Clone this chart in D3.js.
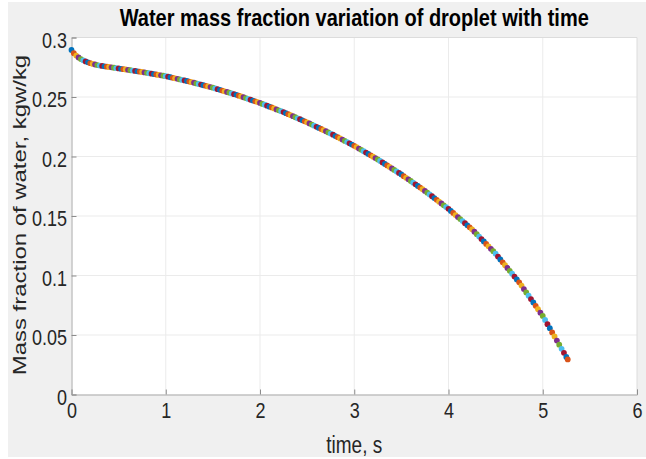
<!DOCTYPE html>
<html>
<head>
<meta charset="utf-8">
<script src="https://cdn.jsdelivr.net/npm/d3@7"></script>
<style>
  html, body { margin: 0; padding: 0; background: #fff; }
  svg { display: block; font-family: "Liberation Sans", Arial, sans-serif; }
</style>
</head>
<body>
<div id="viz"></div>
<script>
// time (s) and water mass fraction (kgw/kg)
const time = [
  0, 0.025, 0.05, 0.075, 0.1, 0.125, 0.15, 0.175, 0.2, 0.225, 0.25, 0.275, 0.3, 0.325, 0.35, 0.375, 0.4, 0.425, 0.45, 0.475,
  0.5, 0.525, 0.55, 0.575, 0.6, 0.625, 0.65, 0.675, 0.7, 0.725, 0.75, 0.775, 0.8, 0.825, 0.85, 0.875, 0.9, 0.925, 0.95, 0.975,
  1, 1.025, 1.05, 1.075, 1.1, 1.125, 1.15, 1.175, 1.2, 1.225, 1.25, 1.275, 1.3, 1.325, 1.35, 1.375, 1.4, 1.425, 1.45, 1.475,
  1.5, 1.525, 1.55, 1.575, 1.6, 1.625, 1.65, 1.675, 1.7, 1.725, 1.75, 1.775, 1.8, 1.825, 1.85, 1.875, 1.9, 1.925, 1.95, 1.975,
  2, 2.025, 2.05, 2.075, 2.1, 2.125, 2.15, 2.175, 2.2, 2.225, 2.25, 2.275, 2.3, 2.325, 2.35, 2.375, 2.4, 2.425, 2.45, 2.475,
  2.5, 2.525, 2.55, 2.575, 2.6, 2.625, 2.65, 2.675, 2.7, 2.725, 2.75, 2.775, 2.8, 2.825, 2.85, 2.875, 2.9, 2.925, 2.95, 2.975,
  3, 3.025, 3.05, 3.075, 3.1, 3.125, 3.15, 3.175, 3.2, 3.225, 3.25, 3.275, 3.3, 3.325, 3.35, 3.375, 3.4, 3.425, 3.45, 3.475,
  3.5, 3.525, 3.55, 3.575, 3.6, 3.625, 3.65, 3.675, 3.7, 3.725, 3.75, 3.775, 3.8, 3.825, 3.85, 3.875, 3.9, 3.925, 3.95, 3.975,
  4, 4.025, 4.05, 4.075, 4.1, 4.125, 4.15, 4.175, 4.2, 4.225, 4.25, 4.275, 4.3, 4.325, 4.35, 4.375, 4.4, 4.425, 4.45, 4.475,
  4.5, 4.525, 4.55, 4.575, 4.6, 4.625, 4.65, 4.675, 4.7, 4.725, 4.75, 4.775, 4.8, 4.825, 4.85, 4.875, 4.9, 4.925, 4.95, 4.975,
  5, 5.025, 5.05, 5.075, 5.1, 5.125, 5.15, 5.175, 5.2, 5.225, 5.25, 5.265
];
const waterFraction = [
  0.2895, 0.2868, 0.2848, 0.2832, 0.2819, 0.2808, 0.2799, 0.2791, 0.2784, 0.2778, 0.2773, 0.2768, 0.2764, 0.2761, 0.2758, 0.2755, 0.2752, 0.2749, 0.2746, 0.2743,
  0.2740, 0.2737, 0.2734, 0.2731, 0.2728, 0.2725, 0.2722, 0.2719, 0.2716, 0.2713, 0.2710, 0.27065, 0.2703, 0.26995, 0.2696, 0.26925, 0.2689, 0.26855, 0.2682, 0.26785,
  0.2675, 0.26705, 0.2666, 0.26615, 0.2657, 0.26525, 0.2648, 0.26435, 0.2639, 0.26345, 0.2630, 0.26248, 0.26196, 0.26144, 0.26092, 0.2604, 0.25988, 0.25936, 0.25884, 0.25832,
  0.2578, 0.2572, 0.2566, 0.2560, 0.2554, 0.2548, 0.2542, 0.2536, 0.2530, 0.2524, 0.2518, 0.2511, 0.2504, 0.2498, 0.2491, 0.2484, 0.2477, 0.2470, 0.2464, 0.2457,
  0.2450, 0.2442, 0.2435, 0.2427, 0.2419, 0.2412, 0.2404, 0.2396, 0.2388, 0.2381, 0.2373, 0.2364, 0.2356, 0.2347, 0.2339, 0.2330, 0.2321, 0.2313, 0.2304, 0.2296,
  0.2287, 0.2278, 0.2268, 0.2259, 0.2249, 0.2240, 0.2231, 0.2221, 0.2212, 0.2202, 0.2193, 0.2183, 0.2172, 0.2162, 0.2152, 0.2142, 0.2131, 0.2121, 0.2111, 0.2100,
  0.2090, 0.2079, 0.2067, 0.2056, 0.2044, 0.2033, 0.2021, 0.2010, 0.1998, 0.1987, 0.1975, 0.1962, 0.1950, 0.1937, 0.1925, 0.1912, 0.1899, 0.1887, 0.1874, 0.1862,
  0.1849, 0.1835, 0.1821, 0.1808, 0.1794, 0.1780, 0.1766, 0.1752, 0.1739, 0.1725, 0.1711, 0.1696, 0.1681, 0.1666, 0.1651, 0.1636, 0.1620, 0.1605, 0.1590, 0.1575,
  0.1560, 0.1543, 0.1526, 0.1508, 0.1491, 0.1474, 0.1457, 0.1440, 0.1422, 0.1405, 0.1388, 0.1368, 0.1347, 0.1327, 0.1306, 0.1286, 0.1265, 0.1245, 0.1224, 0.1204,
  0.1183, 0.1159, 0.1135, 0.1111, 0.1087, 0.1063, 0.1039, 0.1015, 0.0991, 0.0967, 0.0943, 0.0915, 0.0886, 0.0858, 0.0830, 0.0802, 0.0773, 0.0745, 0.0717, 0.0688,
  0.0660, 0.0626, 0.0591, 0.0557, 0.0522, 0.0488, 0.0453, 0.0419, 0.0384, 0.0350, 0.0315, 0.0295
];
const xTicks = [0, 1, 2, 3, 4, 5, 6];
const yTicks = [0, 0.05, 0.1, 0.15, 0.2, 0.25, 0.3];
const markerColors = ['#0072BD', '#D95319', '#EDB120', '#7E2F8E', '#77AC30', '#4DBEEE', '#A2142F'];

const width = 646;
const height = 459;
const plotLeft = 71.5, plotRight = 637, plotTop = 37.5, plotBottom = 394.5;

const svg = d3.select('#viz').append('svg')
  .attr('width', width)
  .attr('height', height);

// figure background
svg.append('rect')
  .attr('x', 8).attr('y', 2)
  .attr('width', width - 8).attr('height', height - 4)
  .attr('fill', '#f0f0f0');

const x = d3.scaleLinear().domain([0, 6]).range([plotLeft, plotRight]);
const y = d3.scaleLinear().domain([0, 0.3]).range([plotBottom, plotTop]);

svg.append('rect')
  .attr('x', plotLeft).attr('y', plotTop)
  .attr('width', plotRight - plotLeft).attr('height', plotBottom - plotTop)
  .attr('fill', '#fff');

// grid
svg.append('g').selectAll('line')
  .data(xTicks.slice(1, -1))
  .join('line')
  .attr('x1', d => x(d)).attr('x2', d => x(d))
  .attr('y1', plotTop).attr('y2', plotBottom)
  .attr('stroke', '#ebebeb');
svg.append('g').selectAll('line')
  .data(yTicks.slice(1, -1))
  .join('line')
  .attr('x1', plotLeft).attr('x2', plotRight)
  .attr('y1', d => y(d)).attr('y2', d => y(d))
  .attr('stroke', '#ebebeb');

// box: top and right are light
svg.append('path')
  .attr('d', `M${plotLeft},${plotTop}H${plotRight}V${plotBottom}`)
  .attr('fill', 'none')
  .attr('stroke', '#dcdcdc');

const tickColor = '#262626';

const xAxis = svg.append('g')
  .attr('transform', `translate(0,${plotBottom})`)
  .call(d3.axisBottom(x).tickValues(xTicks).tickSize(-5).tickFormat(d3.format('d')));
const yAxis = svg.append('g')
  .attr('transform', `translate(${plotLeft},0)`)
  .call(d3.axisLeft(y).tickValues(yTicks).tickSize(-5).tickFormat(d => d === 0 ? '0' : String(d)));

[xAxis, yAxis].forEach(ax => {
  ax.select('.domain').attr('stroke', '#a8a8a8');
  ax.selectAll('.tick line').attr('stroke', '#8c8c8c');
  ax.selectAll('.tick text')
    .attr('fill', tickColor)
    .style('font-size', '18px')
    .style('font-family', '"Liberation Sans", Arial, sans-serif');
});
xAxis.selectAll('.tick text')
  .attr('y', null).attr('dy', null)
  .attr('transform', 'translate(0,23.5) scale(1,1.2)');
yAxis.selectAll('.tick text')
  .attr('x', null).attr('dy', null)
  .attr('text-anchor', 'end')
  .attr('transform', 'translate(-4.5,9.5) scale(1,1.2)');

// data markers, one colour per point, cycling like MATLAB
const points = time.map((t, i) => ({ t: t, v: waterFraction[i], i: i }));
svg.append('g').selectAll('circle')
  .data(points)
  .join('circle')
  .attr('cx', d => x(d.t))
  .attr('cy', d => y(d.v))
  .attr('r', 2.9)
  .attr('fill', d => markerColors[d.i % markerColors.length]);

// title and labels
svg.append('text')
  .attr('transform', `translate(${(plotLeft + plotRight) / 2},26) scale(1,1.2)`)
  .attr('text-anchor', 'middle')
  .style('font-size', '20px')
  .style('font-weight', 'bold')
  .attr('fill', '#000')
  .text('Water mass fraction variation of droplet with time');

svg.append('text')
  .attr('transform', `translate(${(plotLeft + plotRight) / 2},453) scale(1,1.25)`)
  .attr('text-anchor', 'middle')
  .style('font-size', '19px')
  .attr('fill', tickColor)
  .text('time, s');

svg.append('text')
  .attr('transform', `translate(26,${(plotTop + plotBottom) / 2 - 1}) scale(1,1.33) rotate(-90)`)
  .attr('text-anchor', 'middle')
  .style('font-size', '18px')
  .attr('fill', tickColor)
  .text('Mass fraction of water, kgw/kg');
</script>
</body>
</html>
